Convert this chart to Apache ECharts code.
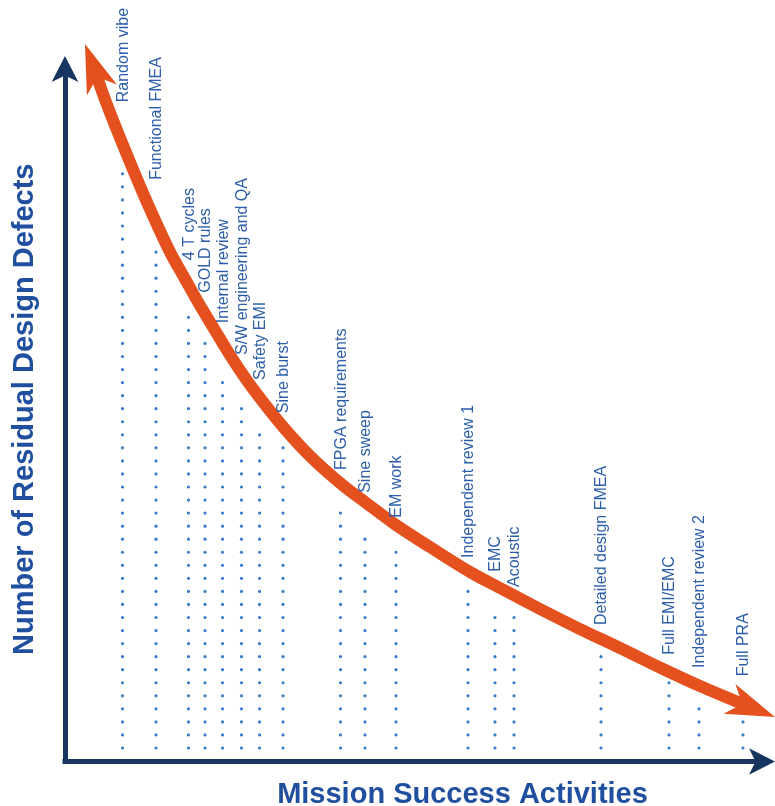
<!DOCTYPE html>
<html>
<head>
<meta charset="utf-8">
<script src="https://cdn.jsdelivr.net/npm/echarts/dist/echarts.min.js"></script>
<style>
html,body{margin:0;padding:0;background:#ffffff;}
#chart{width:775px;height:806px;}
</style>
</head>
<body>
<div id="chart"></div>
<script>
// ---- data ----
const activities = ['Random vibe','Functional FMEA','4 T cycles','GOLD rules','Internal review','S/W engineering and QA','Safety EMI','Sine burst','FPGA requirements','Sine sweep','EM work','Independent review 1','EMC','Acoustic','Detailed design FMEA','Full EMI/EMC','Independent review 2','Full PRA'];
const activityX = [8.25,13.06,17.72,20.09,22.60,25.32,27.91,31.28,39.53,43.04,47.49,57.82,61.69,64.42,76.90,86.66,90.96,97.27];
const dotTop = [85.0,73.6,64.2,60.4,54.8,51.0,47.1,45.4,35.8,32.1,30.1,24.5,20.7,20.7,15.1,11.5,7.7,5.7];
const labelBase = [95.2,84.0,72.4,67.7,63.3,58.7,55.1,50.3,42.1,38.8,35.2,29.4,27.4,25.2,19.7,15.4,13.5,12.3];
const curveX = [2.87,4.45,5.88,8.61,11.62,15.06,17.07,19.08,21.23,23.67,26.26,28.98,31.56,34.43,37.30,40.17,43.04,47.49,52.37,58.11,62.41,68.15,73.89,79.63,85.80,91.10,97.56,101.86];
const curveY = [103.61,99.28,95.23,88.30,81.08,73.57,69.96,66.35,62.74,58.70,54.80,51.19,48.01,44.84,42.09,39.64,37.47,34.15,30.97,27.36,25.05,22.02,19.13,16.39,13.36,10.90,8.16,6.43];
const dotBase = 1.95;
const xTitle = 'Mission Success Activities';
const yTitle = 'Number of Residual Design Defects';

// ---- styles ----
const NAVY = '#17365f';
const ORANGE = '#e4511f';
const TITLE = '#1f4f9e';
const LABEL = '#2d5ea9';
const DOT = '#3a7ccc';
const FONT = '"Liberation Sans", Arial, Helvetica, sans-serif';

const curveData = [];
for (let i = 1; i < curveX.length - 1; i++) curveData.push([curveX[i], curveY[i]]);
const n = curveX.length;
const arrowData = [
  [curveX[0], curveY[0], curveX[1], curveY[1]],
  [curveX[n-1], curveY[n-1], curveX[n-2], curveY[n-2]]
];

const axisLineStyle = {
  show: true, onZero: false, symbol: ['none','arrow'], symbolSize: [20,26], symbolOffset: [0, 13],
  lineStyle: {color: NAVY, width: 5, cap: 'square'}
};

const chart = echarts.init(document.getElementById('chart'), null, {renderer: 'canvas'});
chart.setOption({
  animation: false,
  backgroundColor: '#ffffff',
  grid: {left: 65, right: 13, top: 69, bottom: 44.5, containLabel: false, outerBoundsMode: 'none'},
  xAxis: {
    type: 'value', min: 0, max: 100,
    axisLine: axisLineStyle,
    axisTick: {show: false}, axisLabel: {show: false}, splitLine: {show: false},
    name: xTitle, nameLocation: 'middle', nameGap: 19,
    nameTextStyle: {fontSize: 29, fontWeight: 'bold', color: TITLE, fontFamily: FONT, padding: [0,0,0,98]}
  },
  yAxis: {
    type: 'value', min: 0, max: 100,
    axisLine: axisLineStyle,
    axisTick: {show: false}, axisLabel: {show: false}, splitLine: {show: false},
    name: yTitle, nameLocation: 'middle', nameGap: 26, nameRotate: 90,
    nameTextStyle: {fontSize: 29, fontWeight: 'bold', color: TITLE, fontFamily: FONT, padding: [0,0,0,12]}
  },
  series: [
    {
      type: 'custom', name: 'dots', z: 2,
      data: activityX.map((x, i) => [x, dotTop[i]]),
      renderItem: function (params, api) {
        const x = api.value(0);
        const base = api.coord([x, dotBase]);
        const top = api.coord([x, api.value(1)]);
        const children = [];
        for (let y = base[1]; y >= top[1] - 1; y -= 13.05) {
          children.push({type: 'circle', shape: {cx: base[0], cy: y, r: 1.6}, style: {fill: DOT}});
        }
        return {type: 'group', children: children};
      }
    },
    {
      type: 'line', name: 'curve', z: 3,
      data: curveData, smooth: 0.3, clip: false,
      symbol: 'none', showSymbol: false,
      lineStyle: {color: ORANGE, width: 12, cap: 'butt'}
    },
    {
      type: 'custom', name: 'arrows', z: 4,
      data: arrowData,
      renderItem: function (params, api) {
        const t = api.coord([api.value(0), api.value(1)]);
        const nb = api.coord([api.value(2), api.value(3)]);
        let dx = t[0] - nb[0], dy = t[1] - nb[1];
        const len = Math.hypot(dx, dy); dx /= len; dy /= len;
        const L = 49, W = 16;
        const px = -dy, py = dx;
        const bx = t[0] - dx * L, by = t[1] - dy * L;
        const points = [
          [t[0], t[1]],
          [bx + px * W, by + py * W],
          [t[0] - dx * L * 0.72, t[1] - dy * L * 0.72],
          [bx - px * W, by - py * W]
        ];
        return {type: 'polygon', shape: {points: points}, style: {fill: ORANGE}};
      }
    },
    {
      type: 'custom', name: 'labels', z: 5,
      data: activityX.map((x, i) => [x, labelBase[i]]),
      renderItem: function (params, api) {
        const p = api.coord([api.value(0), api.value(1)]);
        return {
          type: 'text', x: p[0] + 1, y: p[1], rotation: Math.PI / 2,
          style: {text: activities[params.dataIndex], fill: LABEL, fontSize: 16, fontFamily: FONT,
            align: 'left', verticalAlign: 'middle'}
        };
      }
    }
  ]
});
</script>
</body>
</html>
